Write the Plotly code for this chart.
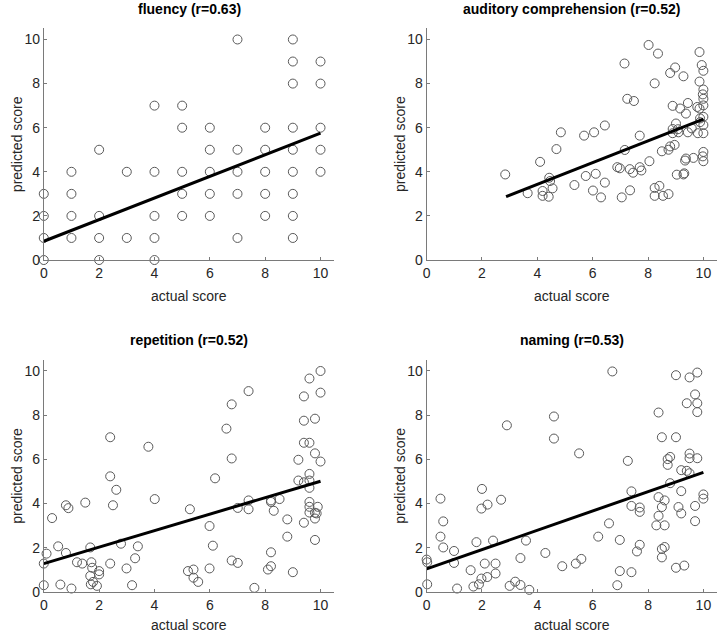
import plotly.graph_objects as go

# ---------------- data ----------------
titles = ["fluency (r=0.63)", "auditory comprehension (r=0.52)",
          "repetition (r=0.52)", "naming (r=0.53)"]
tick_vals = [0, 2, 4, 6, 8, 10]
tick_text = ["0", "2", "4", "6", "8", "10"]

fluency_x = ([0]*4 + [1]*4 + [2]*4 + [3]*2 + [4]*5 + [5]*5 + [6]*5 + [7]*5 + [8]*5 + [9]*9 + [10]*5)
fluency_y = ([0, 1, 2, 3] + [1, 2, 3, 4] + [0, 1, 2, 5] + [1, 4] + [0, 1, 2, 4, 7] +
             [2, 3, 4, 6, 7] + [2, 3, 4, 5, 6] + [1, 3, 4, 5, 10] + [2, 3, 4, 5, 6] +
             [1, 2, 3, 4, 5, 6, 8, 9, 10] + [4, 5, 6, 8, 9])
fluency_fit_x = [0, 10]
fluency_fit_y = [0.85, 5.75]

auditory_x = [2.84, 3.65, 4.10, 4.19, 4.19, 4.41, 4.43, 4.46, 4.55, 4.69, 4.85, 5.34, 5.69, 5.75,
              6.05, 6.01, 6.11, 6.30, 6.44, 6.44, 7.05, 6.89, 6.98, 7.15, 7.16, 7.25, 7.34, 7.35,
              7.49, 7.46, 7.70, 7.70, 7.76, 8.02, 8.05, 8.36, 8.24, 8.24, 8.24, 8.41, 8.50, 8.54,
              8.74, 8.74, 8.80, 8.80, 8.89, 8.89, 8.89, 8.96, 8.98, 9.01, 9.04, 9.08, 9.10, 9.16,
              9.28, 9.28, 9.31, 9.34, 9.37, 9.37, 9.44, 9.44, 9.58, 9.64, 9.78, 9.80, 9.86, 9.86,
              9.86, 9.88, 9.94, 10.0, 10.0, 9.98, 10.0, 10.0, 10.0, 10.0, 10.0, 10.0, 9.98, 10.0,
              9.88]
auditory_y = [3.88, 3.03, 4.45, 3.13, 2.91, 2.87, 3.73, 3.58, 3.25, 5.03, 5.79, 3.40, 5.64, 3.81,
              5.79, 3.15, 3.91, 2.84, 6.10, 3.51, 2.84, 4.21, 4.16, 8.91, 4.99, 7.31, 4.12, 3.16,
              7.21, 3.96, 5.64, 4.21, 4.06, 9.75, 4.48, 9.36, 8.01, 3.27, 2.91, 3.36, 4.93, 2.91,
              5.00, 2.99, 8.48, 5.15, 6.99, 5.94, 5.75, 5.22, 8.73, 6.19, 3.87, 5.93, 5.79, 6.87,
              8.33, 3.88, 3.93, 4.51, 6.64, 4.60, 7.12, 5.79, 5.97, 4.63, 6.94, 5.75, 9.43, 8.09,
              6.87, 6.25, 8.84, 8.58, 7.73, 7.51, 7.31, 7.01, 6.49, 6.12, 5.75, 4.90, 4.70, 4.48,
              6.42]
auditory_fit_x = [2.87, 10.0]
auditory_fit_y = [2.87, 6.39]

repetition_x = [0.0, 0.0, 0.10, 0.30, 0.52, 0.60, 0.80, 0.80, 0.89, 1.00, 1.20, 1.39, 1.50, 1.68,
                1.72, 1.75, 1.68, 1.70, 1.78, 1.92, 2.00, 2.00, 2.40, 2.40, 2.40, 2.50, 2.62, 2.79,
                2.99, 3.19, 3.30, 3.40, 3.78, 4.01, 5.21, 5.28, 5.41, 5.41, 5.58, 5.99, 5.99, 6.11,
                6.19, 6.60, 6.79, 6.79, 6.79, 7.01, 7.01, 7.40, 7.40, 7.40, 7.61, 8.10, 8.21, 8.21,
                8.21, 8.21, 8.31, 8.52, 8.80, 8.80, 9.00, 9.20, 9.20, 9.40, 9.40, 9.40, 9.40, 9.40,
                9.60, 9.60, 9.60, 9.60, 9.60, 9.60, 9.60, 9.60, 9.80, 9.80, 9.80, 9.80, 9.80, 9.86,
                9.90, 10.0, 10.0, 10.0]
repetition_y = [1.28, 0.30, 1.73, 3.34, 2.06, 0.33, 1.76, 3.92, 3.79, 0.15, 1.34, 1.28, 4.04, 2.01,
                1.34, 1.09, 0.72, 0.34, 0.45, 0.27, 0.94, 0.79, 1.28, 5.23, 7.00, 3.92, 4.62, 2.18,
                1.06, 0.30, 1.52, 2.06, 6.57, 4.20, 0.94, 3.74, 1.01, 0.64, 0.45, 2.98, 1.06, 2.09,
                5.14, 7.39, 6.04, 8.49, 1.42, 1.31, 3.80, 9.09, 4.14, 3.74, 0.18, 1.01, 1.79, 1.16,
                4.07, 4.14, 3.67, 4.20, 3.28, 2.50, 0.89, 5.98, 5.04, 8.85, 7.75, 6.75, 3.13, 4.96,
                6.75, 9.66, 5.34, 4.71, 5.04, 4.07, 3.85, 3.59, 7.84, 6.27, 3.58, 3.32, 2.35, 3.55,
                3.85, 10.0, 9.02, 5.90]
repetition_fit_x = [0, 10]
repetition_fit_y = [1.28, 5.01]

naming_x = [0.0, 0.02, 0.02, 0.50, 0.50, 0.60, 0.60, 0.99, 0.99, 1.10, 1.59, 1.69, 1.80, 1.89,
            1.98, 1.98, 2.00, 2.10, 2.19, 2.20, 2.40, 2.49, 2.49, 2.69, 2.90, 3.00, 3.20, 3.39,
            3.39, 3.59, 3.71, 4.29, 4.60, 4.60, 4.90, 5.39, 5.51, 5.59, 6.20, 6.59, 6.71, 6.89,
            6.98, 6.98, 7.27, 7.40, 7.40, 7.40, 7.60, 7.70, 7.70, 7.70, 8.30, 8.38, 8.38, 8.38,
            8.50, 8.50, 8.50, 8.50, 8.60, 8.60, 8.60, 8.71, 8.71, 8.80, 8.80, 9.01, 9.01, 9.01,
            9.10, 9.20, 9.20, 9.20, 9.31, 9.40, 9.40, 9.50, 9.50, 9.50, 9.50, 9.70, 9.70, 9.70,
            9.78, 9.78, 9.78, 9.78, 10.0, 10.0]
naming_y = [1.46, 1.34, 0.34, 4.22, 2.50, 3.19, 2.01, 1.85, 1.31, 0.15, 0.98, 0.24, 2.25, 0.34,
            0.60, 3.77, 4.66, 1.28, 0.67, 3.95, 2.32, 1.28, 0.83, 4.17, 7.54, 0.27, 0.46, 0.31,
            1.53, 2.32, 0.09, 1.76, 7.94, 6.94, 1.16, 1.28, 6.27, 1.49, 2.50, 3.10, 9.98, 0.30,
            0.94, 2.35, 5.93, 4.55, 3.89, 0.89, 1.83, 3.82, 3.62, 2.13, 3.01, 3.44, 4.29, 8.12,
            7.00, 3.84, 1.94, 1.56, 4.14, 3.01, 2.03, 6.01, 5.75, 4.92, 6.11, 7.00, 9.81, 1.09,
            3.84, 5.51, 4.56, 3.55, 1.19, 8.54, 5.48, 9.71, 6.26, 6.05, 5.37, 8.94, 3.89, 3.20,
            9.93, 8.54, 8.14, 6.05, 4.41, 4.22]
naming_fit_x = [0, 10]
naming_fit_y = [1.04, 5.41]

panels = [
    (fluency_x, fluency_y, fluency_fit_x, fluency_fit_y),
    (auditory_x, auditory_y, auditory_fit_x, auditory_fit_y),
    (repetition_x, repetition_y, repetition_fit_x, repetition_fit_y),
    (naming_x, naming_y, naming_fit_x, naming_fit_y),
]

# ---------------- layout geometry (pixels) ----------------
W, H = 720, 642
# (left, right, top, bottom) plot-area pixels per panel
boxes = [(40, 332.2, 28.8, 263.3), (425, 717.2, 28.8, 263.3),
         (40, 332.2, 364.5, 599.3), (425, 717.2, 364.5, 599.3)]
xlabel_offsets = [36, 36, 34, 34]

FONT = "Liberation Sans, Arial, Helvetica, sans-serif"
TEXT = "#262626"
AXIS = "#7a7a7a"
MARK = "#595959"

fig = go.Figure()
annotations = []
layout = dict(width=W, height=H, margin=dict(l=0, r=0, t=0, b=0),
              paper_bgcolor="white", plot_bgcolor="white", showlegend=False,
              font=dict(family=FONT, size=14, color=TEXT))

for i, ((px, py, fx, fy), (l, r, t, b)) in enumerate(zip(panels, boxes)):
    k = "" if i == 0 else str(i + 1)
    fig.add_trace(go.Scatter(x=px, y=py, mode="markers", xaxis="x" + k, yaxis="y" + k,
                             cliponaxis=False,
                             marker=dict(symbol="circle-open", size=9,
                                         color=MARK, line=dict(width=1, color=MARK))))
    fig.add_trace(go.Scatter(x=fx, y=fy, mode="lines", xaxis="x" + k, yaxis="y" + k,
                             cliponaxis=False,
                             line=dict(color="black", width=3)))
    ax = dict(range=[0, 10.5], tickvals=tick_vals, ticktext=tick_text, showgrid=False,
              zeroline=False, showline=True, linecolor=AXIS, linewidth=1,
              ticks="inside", ticklen=3, tickcolor=AXIS, tickwidth=1,
              tickfont=dict(family=FONT, size=14, color=TEXT), fixedrange=True)
    layout["xaxis" + k] = dict(ax, domain=[l / W, r / W], anchor="y" + k)
    layout["yaxis" + k] = dict(ax, domain=[1 - b / H, 1 - t / H], anchor="x" + k)
    cx = (l + r) / 2 / W
    annotations.append(dict(text="<b>" + titles[i] + "</b>", x=cx, y=1 - (t - 20) / H,
                            xref="paper", yref="paper", showarrow=False,
                            xanchor="center", yanchor="middle",
                            font=dict(family=FONT, size=14, color="black")))
    annotations.append(dict(text="actual score", x=cx, y=1 - (b + xlabel_offsets[i]) / H,
                            xref="paper", yref="paper", showarrow=False,
                            xanchor="center", yanchor="middle",
                            font=dict(family=FONT, size=14, color=TEXT)))
    annotations.append(dict(text="predicted score", x=(l - 27) / W, y=1 - (t + b) / 2 / H,
                            xref="paper", yref="paper", showarrow=False, textangle=-90,
                            xanchor="center", yanchor="middle",
                            font=dict(family=FONT, size=14, color=TEXT)))

layout["annotations"] = annotations
fig.update_layout(**layout)
fig.write_html("out.html", config={"displayModeBar": False},
               post_script="document.body.style.margin='0';document.body.style.overflow='hidden';")
